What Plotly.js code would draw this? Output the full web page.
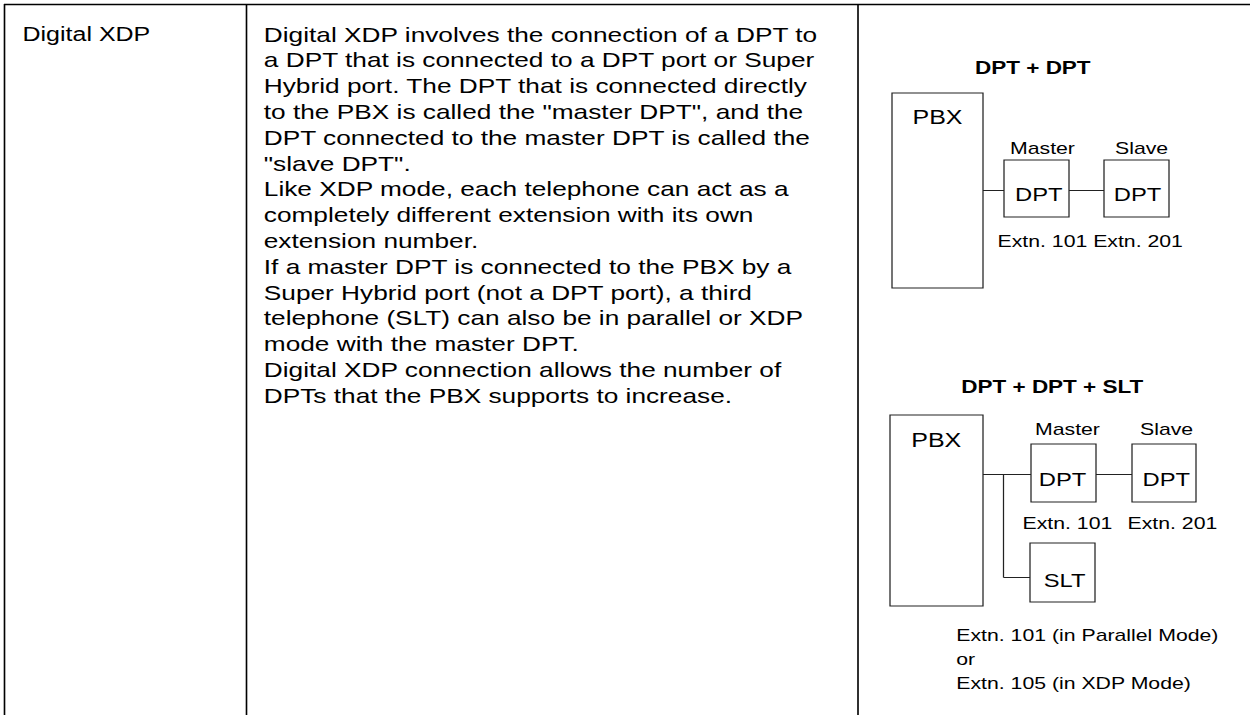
<!DOCTYPE html>
<html>
<head>
<meta charset="utf-8">
<script src="https://cdn.plot.ly/plotly-3.0.1.min.js"></script>
<style>
html,body{margin:0;padding:0;background:#fff;overflow:hidden;}
#chart{width:1000px;height:715px;transform:scaleX(1.25);transform-origin:0 0;}
</style>
</head>
<body>
<div id="chart"></div>
<script>
// ---- content ----
const rowLabel = "Digital XDP";
const bodyLines = [
  "Digital XDP involves the connection of a DPT to",
  "a DPT that is connected to a DPT port or Super",
  "Hybrid port. The DPT that is connected directly",
  "to the PBX is called the \"master DPT\", and the",
  "DPT connected to the master DPT is called the",
  "\"slave DPT\".",
  "Like XDP mode, each telephone can act as a",
  "completely different extension with its own",
  "extension number.",
  "If a master DPT is connected to the PBX by a",
  "Super Hybrid port (not a DPT port), a third",
  "telephone (SLT) can also be in parallel or XDP",
  "mode with the master DPT.",
  "Digital XDP connection allows the number of",
  "DPTs that the PBX supports to increase."
];
const diagramTitles = ["DPT + DPT", "DPT + DPT + SLT"];
const unitLabels = ["PBX", "DPT", "DPT", "SLT"];
const roleLabels = ["Master", "Slave"];
const extnTop = "Extn. 101 Extn. 201";
const extnBottom = ["Extn. 101", "Extn. 201"];
const sltNotes = ["Extn. 101 (in Parallel Mode)", "or", "Extn. 105 (in XDP Mode)"];

// ---- layout helpers ----
const FONT = "Liberation Sans, Arial, Helvetica, sans-serif";
const shapes = [];
const ann = [];
function line(x0,y0,x1,y1,w,c){shapes.push({type:'line',xref:'x',yref:'y',x0:x0,y0:y0,x1:x1,y1:y1,line:{color:c||'#000',width:w||1}});}
function rect(x0,y0,x1,y1){shapes.push({type:'rect',xref:'x',yref:'y',x0:x0,y0:y0,x1:x1,y1:y1,line:{color:'#222',width:1},fillcolor:'rgba(0,0,0,0)'});}
function txt(t,x,y,size,anchor,bold){ann.push({text:bold?'<b>'+t+'</b>':t,x:x,y:y,xref:'x',yref:'y',showarrow:false,xanchor:anchor||'center',yanchor:'middle',borderpad:0,font:{family:FONT,size:size,color:'#000'}});}

// table grid
line(4,4.5,1250,4.5,1.6);
line(4.5,4,4.5,715,1.3);
line(246.5,4,246.5,715,1.3);
line(858,4,858,715,1.3);

// text cells
txt(rowLabel,21,34,20,'left');
bodyLines.forEach((l,i)=>txt(l,262,34+i*25.8,21,'left'));

// diagram 1
txt(diagramTitles[0],1033,68,18,'center',true);
rect(892,93,983,288);
txt(unitLabels[0],937,117,20);
rect(1004,160,1069,217);
rect(1104,160,1169,217);
line(983,190.5,1004,190.5,1,'#222');
line(1069,190.5,1104,190.5,1,'#222');
txt(roleLabels[0],1043,148,17);
txt(roleLabels[1],1142,148,17);
txt(unitLabels[1],1039,194,19);
txt(unitLabels[2],1137,194,19);
txt(extnTop,1090,241,17);

// diagram 2
txt(diagramTitles[1],1053,387,18,'center',true);
rect(890,415,983,606);
txt(unitLabels[0],936,440,20);
rect(1031,444,1096,502);
rect(1132,444,1196,502);
line(983,474.5,1031,474.5,1,'#222');
line(1096,474.5,1132,474.5,1,'#222');
line(1003.5,474.5,1003.5,577.5,1,'#222');
line(1003.5,577.5,1030,577.5,1,'#222');
rect(1030,543,1095,602);
txt(roleLabels[0],1068,429,17);
txt(roleLabels[1],1167,429,17);
txt(unitLabels[1],1062,479,19);
txt(unitLabels[2],1166,479,19);
txt(unitLabels[3],1065,580,19);
txt(extnBottom[0],1067,523,17);
txt(extnBottom[1],1172,523,17);
sltNotes.forEach((l,i)=>txt(l,955,635+i*24,17,'left'));

const layout = {
  width:1000,height:715,
  margin:{l:0,r:0,t:0,b:0,pad:0},
  paper_bgcolor:'#fff',plot_bgcolor:'#fff',
  xaxis:{range:[0,1250],visible:false,fixedrange:true},
  yaxis:{range:[715,0],visible:false,fixedrange:true},
  showlegend:false,
  shapes:shapes,
  annotations:ann
};
Plotly.newPlot('chart',[{x:[],y:[],type:'scatter',mode:'markers',hoverinfo:'skip'}],layout,{staticPlot:true,displayModeBar:false});
</script>
</body>
</html>
